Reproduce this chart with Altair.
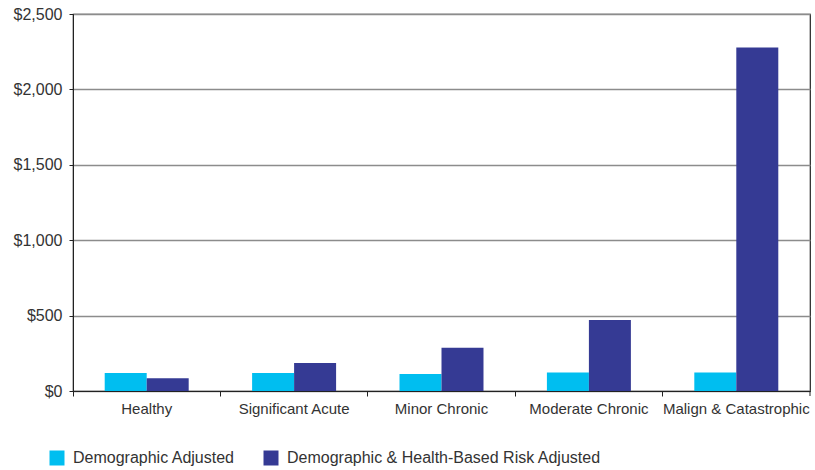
import altair as alt
import pandas as pd

categories = ["Healthy", "Significant Acute", "Minor Chronic", "Moderate Chronic", "Malign & Catastrophic"]
series = ["Demographic Adjusted", "Demographic & Health-Based Risk Adjusted"]
demographic_adjusted = [119, 119, 113, 122, 122]
health_risk_adjusted = [84, 186, 286, 470, 2278]
colors = ["#00BEF0", "#353A94"]
y_ticks = [0, 500, 1000, 1500, 2000, 2500]

rows = []
for cat, a, b in zip(categories, demographic_adjusted, health_risk_adjusted):
    rows.append({"category": cat, "series": series[0], "cost": a})
    rows.append({"category": cat, "series": series[1], "cost": b})
df = pd.DataFrame(rows)

W, H = 737, 377
FONT = "Liberation Sans"

bars = alt.Chart(df).mark_bar().encode(
    x=alt.X(
        "category:N",
        sort=categories,
        scale=alt.Scale(paddingInner=0, paddingOuter=0),
        axis=alt.Axis(
            title=None, labelAngle=0, bandPosition=0, tickSize=5,
            labelPadding=5, labelFontSize=15, labelColor="#333333",
            labelFont=FONT, domainColor="#222222", tickColor="#222222",
            grid=False, labelLimit=0,
        ),
    ),
    xOffset=alt.XOffset("series:N", sort=series,
                        scale=alt.Scale(paddingInner=0, paddingOuter=0.755)),
    y=alt.Y(
        "cost:Q",
        scale=alt.Scale(domain=[0, 2500], nice=False),
        axis=alt.Axis(
            title=None, values=y_ticks, format="$,.0f", tickSize=4,
            labelPadding=7, labelFontSize=16, labelColor="#333333",
            labelFont=FONT, domainColor="#222222", tickColor="#222222",
            gridColor="#8c8c8c", gridWidth=1.5,
        ),
    ),
    color=alt.Color(
        "series:N", sort=series,
        scale=alt.Scale(domain=series, range=colors),
        legend=alt.Legend(
            title=None, orient="none", direction="horizontal",
            legendX=-24, legendY=436, symbolType="square", symbolSize=225,
            symbolStrokeWidth=0, labelFontSize=16, labelColor="#333333",
            labelFont=FONT, columnPadding=28, labelOffset=8, labelLimit=0,
        ),
    ),
)

# closing tick at the right end of the category axis
end_tick = alt.Chart(pd.DataFrame({"v": [0]})).mark_rule(color="#222222").encode(
    x=alt.value(W), y=alt.value(H), y2=alt.value(H + 5)
)

chart = alt.layer(bars, end_tick).properties(
    width=W, height=H,
    autosize=alt.AutoSizeParams(type="none"),
    padding={"left": 73, "top": 14, "right": 5, "bottom": 79},
).configure_view(stroke="#222222", strokeWidth=1.2)

chart.save("out.html", embed_options={"renderer": "svg", "actions": False})
